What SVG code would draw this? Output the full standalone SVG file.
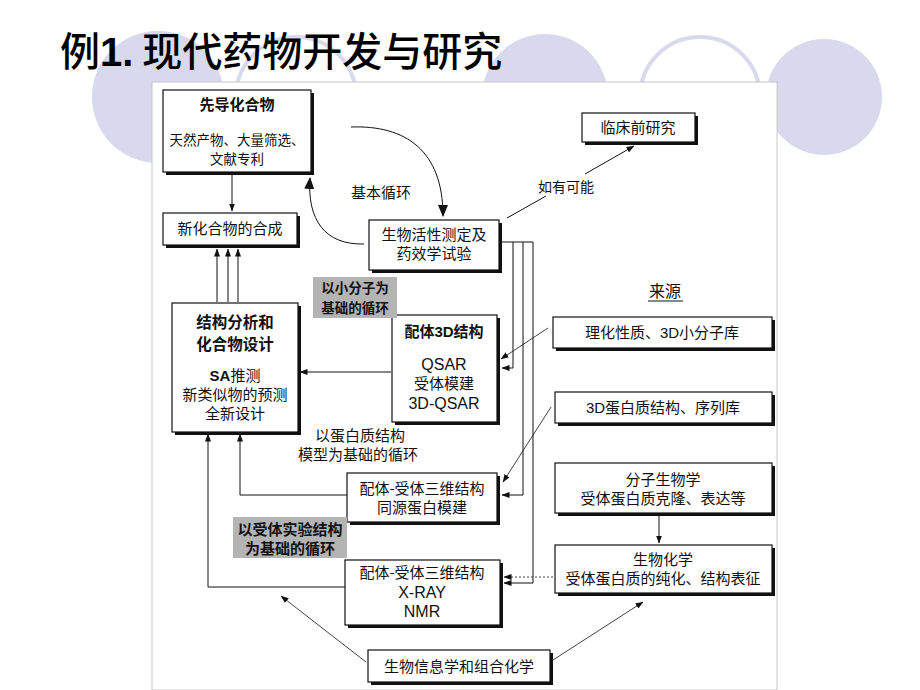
<svg xmlns="http://www.w3.org/2000/svg" width="920" height="690" viewBox="0 0 920 690">
<defs>
<style>
.cf{fill:#d9d9ee;stroke:none}
.co{fill:#ffffff;stroke:#d9d9ee;stroke-width:4}
.sh{fill:#111}
.bx{fill:#fff;stroke:#111;stroke-width:1.2}
.t{font-family:"Noto Sans CJK SC","Liberation Sans",sans-serif;font-size:15px;fill:#111;text-anchor:middle}
.b{font-weight:bold}
.l{font-family:"Liberation Sans","Noto Sans CJK SC",sans-serif;font-size:16px;fill:#111;text-anchor:middle}
.ln{fill:none;stroke:#111;stroke-width:1}
.th{fill:none;stroke:#111;stroke-width:0.8}
.gr{fill:#b4b4b4}
</style>
<marker id="ah" markerWidth="8" markerHeight="6" refX="7.5" refY="3" orient="auto" markerUnits="userSpaceOnUse">
<path d="M0,0 L8,3 L0,6 z" fill="#111"/>
</marker>
<marker id="ab" markerWidth="12" markerHeight="10" refX="11" refY="5" orient="auto" markerUnits="userSpaceOnUse">
<path d="M0,0 L12,5 L0,10 z" fill="#111"/>
</marker>
</defs>
<rect width="920" height="690" fill="#fff"/>
<g id="background">
<circle class="cf" cx="158" cy="97" r="66"/>
<circle class="co" cx="296" cy="97" r="60"/>
<circle class="cf" cx="545" cy="97" r="63"/>
<circle class="co" cx="700" cy="97" r="60"/>
<circle class="cf" cx="824" cy="97" r="58"/>
<rect x="152" y="82" width="625" height="608" fill="#fff" stroke="#c8c8c8" stroke-width="1"/>
</g>
<text x="60" y="66" style="font-family:'Noto Sans CJK SC','Liberation Sans',sans-serif;font-size:40px;font-weight:500;fill:#000">例<tspan font-family="Liberation Sans" font-weight="bold">1.</tspan> 现代药物开发与研究</text>

<g id="connectors">
<path class="ln" d="M232,173 V211" marker-end="url(#ah)"/>
<path class="ln" d="M217,302 V249" marker-end="url(#ah)"/>
<path class="ln" d="M228,302 V249" marker-end="url(#ah)"/>
<path class="ln" d="M238,302 V249" marker-end="url(#ah)"/>
<path class="ln" d="M351,127 C405,125 443,150 443,216" marker-end="url(#ab)"/>
<path class="ln" d="M364,244 C325,245 307,220 310,178" marker-end="url(#ab)"/>
<path class="ln" d="M507,218 L546,196"/>
<path class="ln" d="M585,174 L634,146" marker-end="url(#ah)"/>
<path class="ln" d="M500,242 H533"/>
<path class="ln" d="M513,242 V368 H502" marker-end="url(#ah)"/>
<path class="ln" d="M523,242 V495 H502" marker-end="url(#ah)"/>
<path class="ln" d="M533,242 V583 H504" marker-end="url(#ah)"/>
<path class="ln" d="M391,372 H300" marker-end="url(#ah)"/>
<path class="th" d="M548,328 L501,359" marker-end="url(#ah)"/>
<path class="th" d="M551,407 L503,482" marker-end="url(#ah)"/>
<path class="th" d="M553,577 H504" stroke-dasharray="2,2" marker-end="url(#ah)"/>
<path class="ln" d="M659,515 V543" marker-end="url(#ah)"/>
<path class="ln" d="M347,495 H240 V434" marker-end="url(#ah)"/>
<path class="ln" d="M345,587 H208 V434" marker-end="url(#ah)"/>
<path class="th" d="M366,662 L281,596" marker-end="url(#ah)"/>
<path class="th" d="M553,660 L643,602" marker-end="url(#ah)"/>
</g>

<g id="lead">
<rect class="sh" x="166" y="93" width="148" height="82"/>
<rect class="bx" x="163" y="90" width="148" height="82"/>
<text class="t b" x="237" y="110">先导化合物</text>
<text class="t" x="237" y="145" style="font-size:13.5px">天然产物、大量筛选、</text>
<text class="t" x="237" y="164" style="font-size:13.5px">文献专利</text>
</g>
<g id="newcmp">
<rect class="sh" x="166" y="216" width="134" height="32"/>
<rect class="bx" x="163" y="213" width="134" height="32"/>
<text class="t" x="230" y="234">新化合物的合成</text>
</g>
<g id="bio">
<rect class="sh" x="372" y="223" width="130" height="50"/>
<rect class="bx" x="369" y="220" width="130" height="50"/>
<text class="t" x="434" y="240">生物活性测定及</text>
<text class="t" x="434" y="259">药效学试验</text>
</g>
<g id="preclin">
<rect class="sh" x="585" y="116" width="113" height="29"/>
<rect class="bx" x="582" y="113" width="113" height="29"/>
<text class="t" x="638" y="133">临床前研究</text>
</g>
<g id="design">
<rect class="sh" x="175" y="306" width="126" height="129"/>
<rect class="bx" x="172" y="303" width="126" height="129"/>
<text class="t b" x="235" y="328" style="font-size:15.5px">结构分析和</text>
<text class="t b" x="235" y="350" style="font-size:15.5px">化合物设计</text>
<text class="t" x="235" y="381"><tspan font-family="Liberation Sans" font-weight="bold">SA</tspan>推测</text>
<text class="t" x="235" y="400">新类似物的预测</text>
<text class="t" x="235" y="419">全新设计</text>
</g>
<g id="ligand3d">
<rect class="sh" x="395" y="318" width="105" height="107"/>
<rect class="bx" x="392" y="315" width="105" height="107"/>
<text class="t b" x="444" y="337">配体<tspan font-family="Liberation Sans">3D</tspan>结构</text>
<text class="l" x="444" y="370">QSAR</text>
<text class="t" x="444" y="389">受体模建</text>
<text class="l" x="444" y="409">3D-QSAR</text>
</g>
<g id="src1">
<rect class="sh" x="556" y="320" width="219" height="31"/>
<rect class="bx" x="553" y="317" width="219" height="31"/>
<text class="t" x="662" y="338">理化性质、<tspan font-family="Liberation Sans">3D</tspan>小分子库</text>
</g>
<g id="src2">
<rect class="sh" x="558" y="395" width="217" height="31"/>
<rect class="bx" x="555" y="392" width="217" height="31"/>
<text class="t" x="663" y="413"><tspan font-family="Liberation Sans">3D</tspan>蛋白质结构、序列库</text>
</g>
<g id="molbio">
<rect class="sh" x="558" y="466" width="217" height="50"/>
<rect class="bx" x="555" y="463" width="217" height="50"/>
<text class="t" x="663" y="485">分子生物学</text>
<text class="t" x="663" y="504">受体蛋白质克隆、表达等</text>
</g>
<g id="biochem">
<rect class="sh" x="558" y="548" width="217" height="48"/>
<rect class="bx" x="555" y="545" width="217" height="48"/>
<text class="t" x="663" y="565">生物化学</text>
<text class="t" x="663" y="584">受体蛋白质的纯化、结构表征</text>
</g>
<g id="homology">
<rect class="sh" x="350" y="476" width="150" height="49"/>
<rect class="bx" x="347" y="473" width="150" height="49"/>
<text class="t" x="422" y="494">配体-受体三维结构</text>
<text class="t" x="422" y="513">同源蛋白模建</text>
</g>
<g id="xray">
<rect class="sh" x="348" y="563" width="155" height="65"/>
<rect class="bx" x="345" y="560" width="155" height="65"/>
<text class="t" x="422" y="578">配体-受体三维结构</text>
<text class="l" x="422" y="598">X-RAY</text>
<text class="l" x="422" y="617">NMR</text>
</g>
<g id="bioinf">
<rect class="sh" x="371" y="653" width="182" height="32"/>
<rect class="bx" x="368" y="650" width="182" height="32"/>
<text class="t" x="459" y="672">生物信息学和组合化学</text>
</g>

<g id="labels">
<text class="t" x="381" y="198">基本循环</text>
<text class="t" x="566" y="192" style="font-size:14px">如有可能</text>
<rect class="gr" x="313" y="277" width="84" height="41"/>
<text class="t b" x="355" y="293" style="font-size:13.5px">以小分子为</text>
<text class="t b" x="355" y="313" style="font-size:13.5px">基础的循环</text>
<text class="t" x="360" y="441">以蛋白质结构</text>
<text class="t" x="358" y="460">模型为基础的循环</text>
<text class="t" x="665" y="297" style="font-size:16px">来源</text>
<path d="M648,301 H683" stroke="#111" stroke-width="1"/>
<rect class="gr" x="233" y="517" width="114" height="41"/>
<text class="t b" x="290" y="535">以受体实验结构</text>
<text class="t b" x="290" y="554">为基础的循环</text>
</g>
</svg>
